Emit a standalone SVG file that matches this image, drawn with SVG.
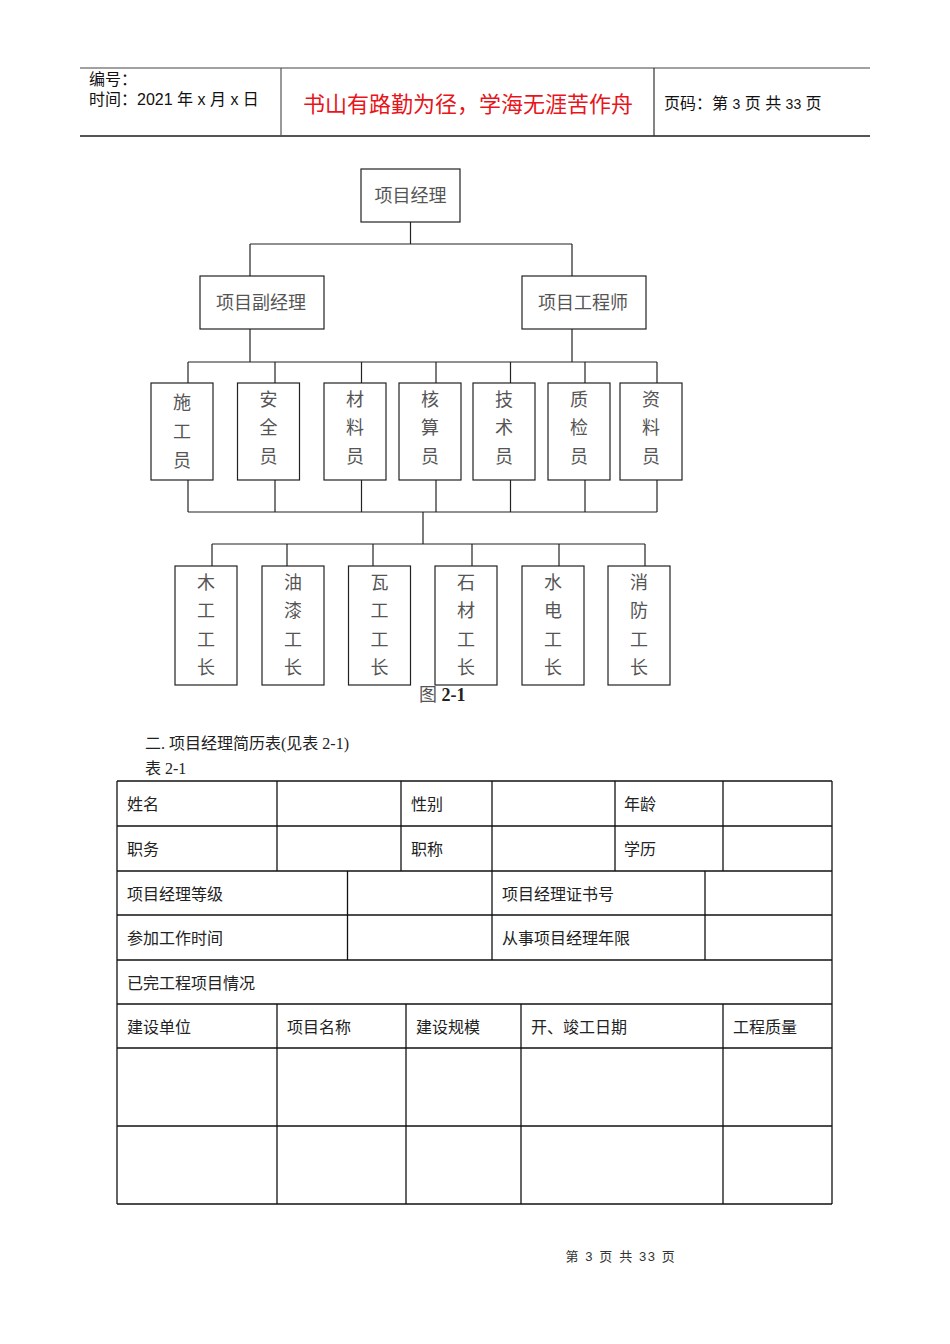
<svg xmlns="http://www.w3.org/2000/svg" width="950" height="1344" viewBox="0 0 950 1344">
<style>
.hd{font-family:"Liberation Sans","Noto Sans CJK SC",sans-serif;font-size:16px;fill:#111}
.red{font-family:"Noto Sans CJK SC",sans-serif;font-size:22px;fill:#e8141b}
.box{fill:#fff;stroke:#222;stroke-width:1.2}
.nt{font-family:"Liberation Serif","Noto Sans CJK SC",serif;font-size:18px;fill:#555;text-anchor:middle;dominant-baseline:central}
.con line{stroke:#222;stroke-width:1.2}
.tb line{stroke:#111;stroke-width:1.3}
.tt{font-family:"Liberation Serif","Noto Sans CJK SC",serif;font-size:16px;fill:#222;dominant-baseline:central}
.ft{font-family:"Liberation Sans","Noto Sans CJK SC",sans-serif;font-size:13px;fill:#333;text-anchor:middle;dominant-baseline:central;letter-spacing:1.6px}
</style>
<rect width="950" height="1344" fill="#fff"/>
<g id="header">
<line x1="80" y1="68" x2="870" y2="68" stroke="#444" stroke-width="1.2"/>
<line x1="80" y1="136" x2="870" y2="136" stroke="#555" stroke-width="1.8"/>
<line x1="281" y1="68" x2="281" y2="136" stroke="#555" stroke-width="1.2"/>
<line x1="654" y1="68" x2="654" y2="136" stroke="#333" stroke-width="1.2"/>
<text class="hd" x="89" y="85">编号：</text>
<text class="hd" x="89" y="105">时间：2021 年 x 月 x 日</text>
<text class="red" x="468" y="112" text-anchor="middle">书山有路勤为径，学海无涯苦作舟</text>
<text class="hd" x="664" y="109">页码：第 <tspan font-size="14">3</tspan> 页 共 <tspan font-size="14">33</tspan> 页</text>
</g>
<g class="con" id="connectors">
<line x1="410.5" y1="222" x2="410.5" y2="244"/>
<line x1="250" y1="244" x2="572" y2="244"/>
<line x1="250" y1="244" x2="250" y2="276"/>
<line x1="572" y1="244" x2="572" y2="276"/>
<line x1="250" y1="329" x2="250" y2="362"/>
<line x1="572" y1="329" x2="572" y2="362"/>
<line x1="188" y1="362" x2="657" y2="362"/>
<line x1="188" y1="362" x2="188" y2="383"/>
<line x1="275" y1="362" x2="275" y2="383"/>
<line x1="361.5" y1="362" x2="361.5" y2="383"/>
<line x1="436" y1="362" x2="436" y2="383"/>
<line x1="510.5" y1="362" x2="510.5" y2="383"/>
<line x1="585" y1="362" x2="585" y2="383"/>
<line x1="657" y1="362" x2="657" y2="383"/>
<line x1="188" y1="480" x2="188" y2="512"/>
<line x1="275" y1="480" x2="275" y2="512"/>
<line x1="361.5" y1="480" x2="361.5" y2="512"/>
<line x1="436" y1="480" x2="436" y2="512"/>
<line x1="510.5" y1="480" x2="510.5" y2="512"/>
<line x1="585" y1="480" x2="585" y2="512"/>
<line x1="657" y1="480" x2="657" y2="512"/>
<line x1="188" y1="512" x2="657" y2="512"/>
<line x1="423" y1="512" x2="423" y2="544"/>
<line x1="212" y1="544" x2="645" y2="544"/>
<line x1="212" y1="544" x2="212" y2="566"/>
<line x1="287" y1="544" x2="287" y2="566"/>
<line x1="373" y1="544" x2="373" y2="566"/>
<line x1="472" y1="544" x2="472" y2="566"/>
<line x1="559" y1="544" x2="559" y2="566"/>
<line x1="645" y1="544" x2="645" y2="566"/>
</g>
<g id="n-pm"><rect class="box" x="361" y="169" width="99" height="53"/><text class="nt" x="410.5" y="196">项目经理</text></g>
<g id="n-dpm"><rect class="box" x="200" y="276" width="124" height="53"/><text class="nt" x="261" y="303">项目副经理</text></g>
<g id="n-eng"><rect class="box" x="522" y="276" width="124" height="53"/><text class="nt" x="583" y="303">项目工程师</text></g>
<g id="n-sg"><rect class="box" x="151" y="383" width="62" height="97"/><text class="nt"><tspan x="182" y="403">施</tspan><tspan x="182" y="432">工</tspan><tspan x="182" y="461">员</tspan></text></g>
<g id="n-aq"><rect class="box" x="237.5" y="383" width="62" height="97"/><text class="nt"><tspan x="268.5" y="400">安</tspan><tspan x="268.5" y="428">全</tspan><tspan x="268.5" y="457">员</tspan></text></g>
<g id="n-cl"><rect class="box" x="324" y="383" width="62" height="97"/><text class="nt"><tspan x="355" y="400">材</tspan><tspan x="355" y="428">料</tspan><tspan x="355" y="457">员</tspan></text></g>
<g id="n-hs"><rect class="box" x="399" y="383" width="62" height="97"/><text class="nt"><tspan x="430" y="400">核</tspan><tspan x="430" y="428">算</tspan><tspan x="430" y="457">员</tspan></text></g>
<g id="n-js"><rect class="box" x="473" y="383" width="62" height="97"/><text class="nt"><tspan x="504" y="400">技</tspan><tspan x="504" y="428">术</tspan><tspan x="504" y="457">员</tspan></text></g>
<g id="n-zj"><rect class="box" x="548" y="383" width="62" height="97"/><text class="nt"><tspan x="579" y="400">质</tspan><tspan x="579" y="428">检</tspan><tspan x="579" y="457">员</tspan></text></g>
<g id="n-zl"><rect class="box" x="620" y="383" width="62" height="97"/><text class="nt"><tspan x="651" y="400">资</tspan><tspan x="651" y="428">料</tspan><tspan x="651" y="457">员</tspan></text></g>
<g id="n-mg"><rect class="box" x="175" y="566" width="62" height="119"/><text class="nt"><tspan x="206" y="583">木</tspan><tspan x="206" y="611">工</tspan><tspan x="206" y="640">工</tspan><tspan x="206" y="668">长</tspan></text></g>
<g id="n-yq"><rect class="box" x="262" y="566" width="62" height="119"/><text class="nt"><tspan x="293" y="583">油</tspan><tspan x="293" y="611">漆</tspan><tspan x="293" y="640">工</tspan><tspan x="293" y="668">长</tspan></text></g>
<g id="n-wg"><rect class="box" x="348.5" y="566" width="62" height="119"/><text class="nt"><tspan x="379.5" y="583">瓦</tspan><tspan x="379.5" y="611">工</tspan><tspan x="379.5" y="640">工</tspan><tspan x="379.5" y="668">长</tspan></text></g>
<g id="n-sc"><rect class="box" x="435" y="566" width="62" height="119"/><text class="nt"><tspan x="466" y="583">石</tspan><tspan x="466" y="611">材</tspan><tspan x="466" y="640">工</tspan><tspan x="466" y="668">长</tspan></text></g>
<g id="n-sd"><rect class="box" x="522" y="566" width="62" height="119"/><text class="nt"><tspan x="553" y="583">水</tspan><tspan x="553" y="611">电</tspan><tspan x="553" y="640">工</tspan><tspan x="553" y="668">长</tspan></text></g>
<g id="n-xf"><rect class="box" x="608" y="566" width="62" height="119"/><text class="nt"><tspan x="639" y="583">消</tspan><tspan x="639" y="611">防</tspan><tspan x="639" y="640">工</tspan><tspan x="639" y="668">长</tspan></text></g>
<g id="caption"><text x="419" y="695" font-family="Liberation Serif,Noto Sans CJK SC,serif" font-size="18" dominant-baseline="central"><tspan fill="#555">图 </tspan><tspan fill="#222" font-weight="bold">2-1</tspan></text></g>
<g id="section">
<text class="tt" x="145" y="743">二. 项目经理简历表(见表 2-1)</text>
<text class="tt" x="145" y="768">表 2-1</text>
</g>
<g class="tb" id="table">
<line x1="117" y1="781" x2="832" y2="781"/>
<line x1="117" y1="826" x2="832" y2="826"/>
<line x1="117" y1="871" x2="832" y2="871"/>
<line x1="117" y1="915" x2="832" y2="915"/>
<line x1="117" y1="960" x2="832" y2="960"/>
<line x1="117" y1="1004" x2="832" y2="1004"/>
<line x1="117" y1="1048" x2="832" y2="1048"/>
<line x1="117" y1="1126" x2="832" y2="1126"/>
<line x1="117" y1="1204" x2="832" y2="1204"/>
<line x1="117" y1="781" x2="117" y2="1204"/>
<line x1="832" y1="781" x2="832" y2="1204"/>
<line x1="277" y1="781" x2="277" y2="871"/>
<line x1="401" y1="781" x2="401" y2="871"/>
<line x1="492" y1="781" x2="492" y2="960"/>
<line x1="615" y1="781" x2="615" y2="871"/>
<line x1="723" y1="781" x2="723" y2="871"/>
<line x1="347.5" y1="871" x2="347.5" y2="960"/>
<line x1="705" y1="871" x2="705" y2="960"/>
<line x1="277" y1="1004" x2="277" y2="1204"/>
<line x1="406" y1="1004" x2="406" y2="1204"/>
<line x1="521" y1="1004" x2="521" y2="1204"/>
<line x1="723" y1="1004" x2="723" y2="1204"/>
<text class="tt" x="127" y="804">姓名</text>
<text class="tt" x="411" y="804">性别</text>
<text class="tt" x="624" y="804">年龄</text>
<text class="tt" x="127" y="849">职务</text>
<text class="tt" x="411" y="849">职称</text>
<text class="tt" x="624" y="849">学历</text>
<text class="tt" x="127" y="894">项目经理等级</text>
<text class="tt" x="502" y="894">项目经理证书号</text>
<text class="tt" x="127" y="938">参加工作时间</text>
<text class="tt" x="502" y="938">从事项目经理年限</text>
<text class="tt" x="127" y="983">已完工程项目情况</text>
<text class="tt" x="127" y="1027">建设单位</text>
<text class="tt" x="287" y="1027">项目名称</text>
<text class="tt" x="416" y="1027">建设规模</text>
<text class="tt" x="531" y="1027">开、竣工日期</text>
<text class="tt" x="733" y="1027">工程质量</text>
</g>
<g id="footer"><text class="ft" x="621" y="1256">第 3 页 共 33 页</text></g>
</svg>
